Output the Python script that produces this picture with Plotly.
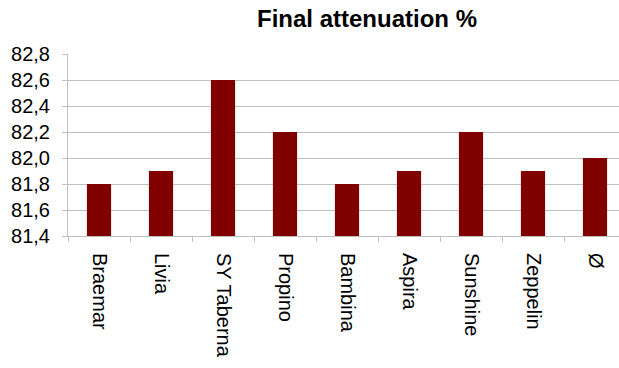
import plotly.graph_objects as go

categories = ["Braemar", "Livia", "SY Taberna", "Propino", "Bambina", "Aspira", "Sunshine", "Zeppelin", "Ø"]
values = [81.8, 81.9, 82.6, 82.2, 81.8, 81.9, 82.2, 81.9, 82.0]
y_ticks = [81.4, 81.6, 81.8, 82.0, 82.2, 82.4, 82.6, 82.8]
y_tick_labels = [f"{v:.1f}".replace(".", ",") for v in y_ticks]

fig = go.Figure(go.Bar(x=categories, y=values, marker_color="#800000",
                       marker_line_width=0, width=0.39))

fig.update_layout(
    width=619, height=368,
    margin=dict(l=68, r=0, t=54, b=132),
    paper_bgcolor="white", plot_bgcolor="white",
    title=dict(text="<b>Final attenuation %</b>", x=(367 - 68) / 551, xanchor="center",
               xref="paper", y=1 - 19 / 368, yanchor="middle",
               font=dict(family="Liberation Sans, Arial", size=24, color="black")),
    font=dict(family="Liberation Sans, Arial", color="black"),
    showlegend=False,
)
fig.update_yaxes(range=[81.4, 82.8], tickvals=y_ticks, ticktext=y_tick_labels,
                 showgrid=True, gridcolor="#c0c0c0", gridwidth=1,
                 showline=True, linecolor="#c0c0c0", ticks="outside", ticklen=5,
                 tickcolor="#c0c0c0", tickfont=dict(size=20), zeroline=False,
                 ticklabelstandoff=8)
fig.update_xaxes(range=[-0.5, 8.5 - 7 / 62], tickangle=90, tickfont=dict(size=20),
                 showline=True, linecolor="#c0c0c0", ticks="outside", ticklen=5,
                 tickcolor="#c0c0c0", tickson="boundaries", showgrid=False,
                 ticklabelstandoff=12)

fig.write_html("out.html")
